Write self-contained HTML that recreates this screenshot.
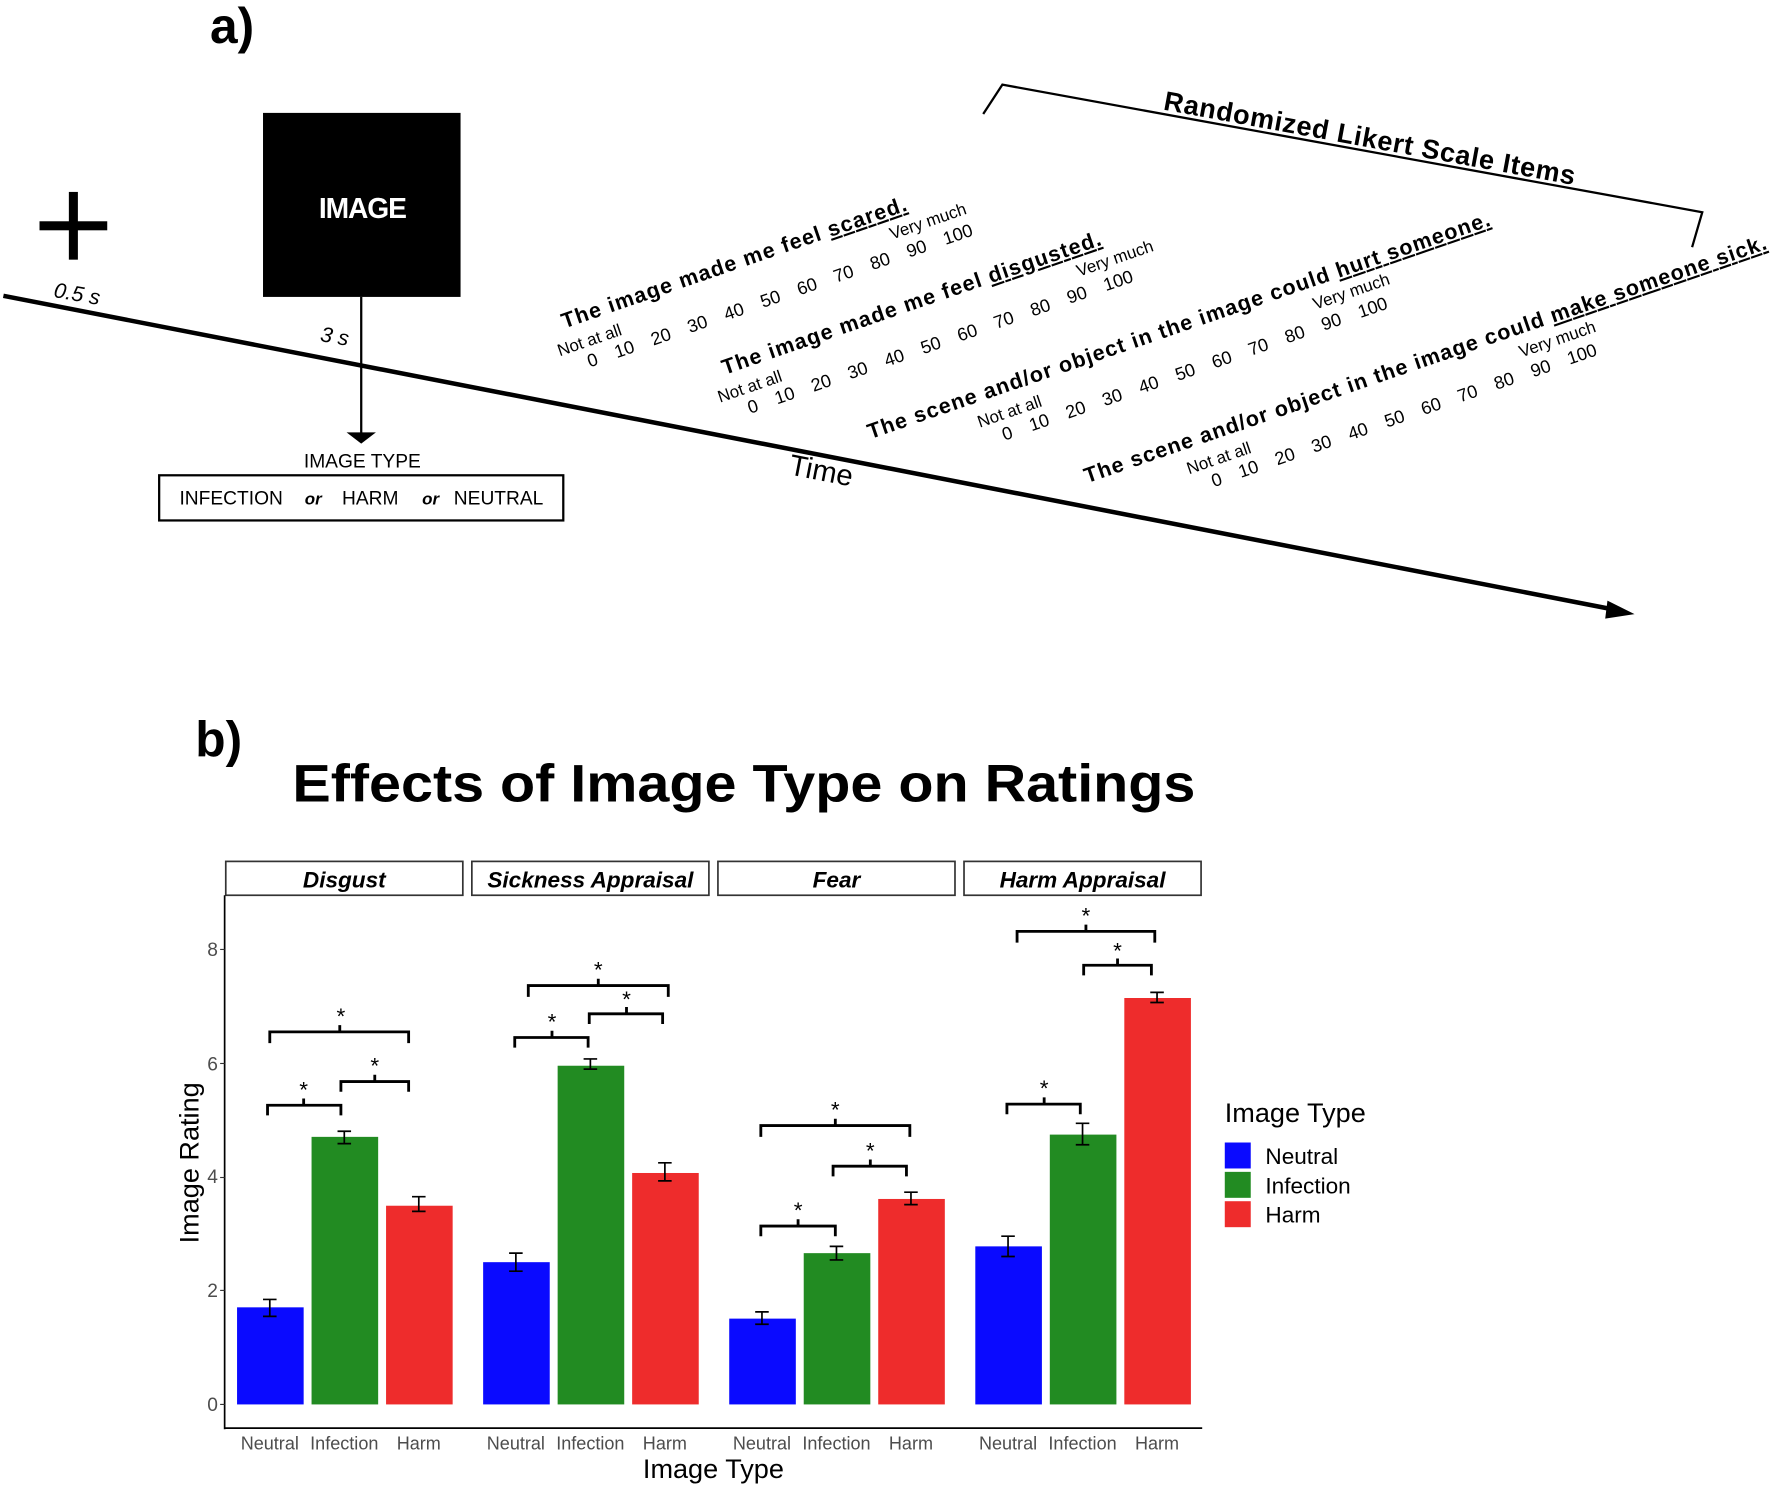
<!DOCTYPE html>
<html><head><meta charset="utf-8"><style>html,body{margin:0;padding:0;background:#fff}svg{display:block}</style></head>
<body>
<svg width="1770" height="1497" viewBox="0 0 1568 1326" preserveAspectRatio="none" xmlns="http://www.w3.org/2000/svg" font-family="Liberation Sans, sans-serif">
<rect width="1568" height="1326" fill="#fff"/>
<!-- part a -->
<text x="186" y="38" font-size="44" font-weight="bold">a)</text>
<rect x="61" y="170" width="8" height="60" fill="#000"/><rect x="35" y="196" width="60" height="8" fill="#000"/>
<text x="47" y="263" font-size="19" font-style="italic" transform="rotate(10 47 263)">0.5 s</text>
<rect x="233" y="100" width="175" height="163" fill="#000"/>
<text x="321" y="193" font-size="25" font-weight="bold" fill="#fff" text-anchor="middle" letter-spacing="-1">IMAGE</text>
<line x1="320" y1="263" x2="320" y2="384" stroke="#000" stroke-width="2"/>
<polygon points="307,383 333,383 320,393" fill="#000"/>
<text x="283" y="302" font-size="19" font-style="italic" transform="rotate(10 283 302)">3 s</text>
<line x1="3" y1="262" x2="1430" y2="540" stroke="#000" stroke-width="4"/>
<polygon points="1448,544 1424,532 1422,548" fill="#000"/>
<text x="698" y="420" font-size="26" transform="rotate(11 698 420)">Time</text>
<text x="321" y="414" font-size="17" text-anchor="middle">IMAGE TYPE</text>
<rect x="141" y="421" width="358" height="40" fill="none" stroke="#000" stroke-width="2"/>
<text x="159" y="447" font-size="17">INFECTION</text>
<text x="270" y="447" font-size="15" font-style="italic" font-weight="bold">or</text>
<text x="303" y="447" font-size="17">HARM</text>
<text x="374" y="447" font-size="15" font-style="italic" font-weight="bold">or</text>
<text x="402" y="447" font-size="17">NEUTRAL</text>
<polyline points="871,101 888,75 1508,188 1499,219" fill="none" stroke="#000" stroke-width="2"/>
<text x="1030" y="97" font-size="24" font-weight="bold" transform="rotate(10.4 1030 97)" textLength="370">Randomized Likert Scale Items</text>
<g font-size="19" font-weight="bold">
<g transform="translate(500,291) rotate(-19)">
<text x="0" y="0" textLength="322">The image made me feel <tspan text-decoration="underline">scared.</tspan></text>
<text x="-12" y="22" font-size="15" font-weight="normal">Not at all</text>
<text x="300" y="20" font-size="15" font-weight="normal">Very much</text>
<text x="10" y="40" font-size="16" font-weight="normal" word-spacing="12">0 10 20 30 40 50 60 70 80 90 100</text>
</g>
<g transform="translate(642,332) rotate(-19)">
<text x="0" y="0" textLength="354">The image made me feel <tspan text-decoration="underline">disgusted.</tspan></text>
<text x="-12" y="22" font-size="15" font-weight="normal">Not at all</text>
<text x="325" y="20" font-size="15" font-weight="normal">Very much</text>
<text x="10" y="40" font-size="16" font-weight="normal" word-spacing="12">0 10 20 30 40 50 60 70 80 90 100</text>
</g>
<g transform="translate(771,389) rotate(-19)">
<text x="0" y="0" textLength="582">The scene and/or object in the image could <tspan text-decoration="underline">hurt someone.</tspan></text>
<text x="95" y="22" font-size="15" font-weight="normal">Not at all</text>
<text x="410" y="20" font-size="15" font-weight="normal">Very much</text>
<text x="112" y="40" font-size="16" font-weight="normal" word-spacing="12">0 10 20 30 40 50 60 70 80 90 100</text>
</g>
<g transform="translate(963,428) rotate(-19)">
<text x="0" y="0" textLength="638">The scene and/or object in the image could <tspan text-decoration="underline">make someone sick.</tspan></text>
<text x="88" y="22" font-size="15" font-weight="normal">Not at all</text>
<text x="400" y="20" font-size="15" font-weight="normal">Very much</text>
<text x="105" y="40" font-size="16" font-weight="normal" word-spacing="12">0 10 20 30 40 50 60 70 80 90 100</text>
</g>
</g>
<!-- part b -->
<text x="173" y="670" font-size="44" font-weight="bold">b)</text>
<text x="259" y="710" font-size="47" font-weight="bold" textLength="800" lengthAdjust="spacingAndGlyphs">Effects of Image Type on Ratings</text>
<g stroke="#333" stroke-width="1.5" fill="#fff">
<rect x="200" y="763" width="210" height="30"/><rect x="418" y="763" width="210" height="30"/>
<rect x="636" y="763" width="210" height="30"/><rect x="854" y="763" width="210" height="30"/>
</g>
<g font-size="20" font-weight="bold" font-style="italic" text-anchor="middle">
<text x="305" y="786">Disgust</text><text x="523" y="786">Sickness Appraisal</text>
<text x="741" y="786">Fear</text><text x="959" y="786">Harm Appraisal</text>
</g>
<line x1="199" y1="793" x2="199" y2="1266" stroke="#000" stroke-width="1.5"/>
<line x1="199" y1="1265" x2="1065" y2="1265" stroke="#000" stroke-width="1.5"/>
<g font-size="17" fill="#4d4d4d" text-anchor="end">
<text x="193" y="1250">0</text><text x="193" y="1149">2</text><text x="193" y="1048">4</text><text x="193" y="948">6</text><text x="193" y="847">8</text>
</g>
<g stroke="#333"><line x1="195" y1="1244" x2="199" y2="1244"/><line x1="195" y1="1143" x2="199" y2="1143"/><line x1="195" y1="1043" x2="199" y2="1043"/><line x1="195" y1="942" x2="199" y2="942"/><line x1="195" y1="841" x2="199" y2="841"/></g>
<text transform="translate(176,1030) rotate(-90)" font-size="24" text-anchor="middle">Image Rating</text>
<text x="632" y="1309" font-size="24" text-anchor="middle">Image Type</text>
<g font-size="16" fill="#4d4d4d" text-anchor="middle">
<text x="239" y="1284">Neutral</text><text x="305" y="1284">Infection</text><text x="371" y="1284">Harm</text>
<text x="457" y="1284">Neutral</text><text x="523" y="1284">Infection</text><text x="589" y="1284">Harm</text>
<text x="675" y="1284">Neutral</text><text x="741" y="1284">Infection</text><text x="807" y="1284">Harm</text>
<text x="893" y="1284">Neutral</text><text x="959" y="1284">Infection</text><text x="1025" y="1284">Harm</text>
</g>
<g>
<rect x="210" y="1158" width="59" height="86" fill="#0a0aff"/>
<rect x="276" y="1007" width="59" height="237" fill="#228b22"/>
<rect x="342" y="1068" width="59" height="176" fill="#ee2c2c"/>
<rect x="428" y="1118" width="59" height="126" fill="#0a0aff"/>
<rect x="494" y="944" width="59" height="300" fill="#228b22"/>
<rect x="560" y="1039" width="59" height="205" fill="#ee2c2c"/>
<rect x="646" y="1168" width="59" height="76" fill="#0a0aff"/>
<rect x="712" y="1110" width="59" height="134" fill="#228b22"/>
<rect x="778" y="1062" width="59" height="182" fill="#ee2c2c"/>
<rect x="864" y="1104" width="59" height="140" fill="#0a0aff"/>
<rect x="930" y="1005" width="59" height="239" fill="#228b22"/>
<rect x="996" y="884" width="59" height="360" fill="#ee2c2c"/>
</g>
<g stroke="#000" stroke-width="1.5" fill="none">
<path d="M233,1151h12M239,1151v15M233,1166h12"/>
<path d="M299,1002h12M305,1002v11M299,1013h12"/>
<path d="M365,1060h12M371,1060v13M365,1073h12"/>
<path d="M451,1110h12M457,1110v16M451,1126h12"/>
<path d="M517,938h12M523,938v9M517,947h12"/>
<path d="M583,1030h12M589,1030v16M583,1046h12"/>
<path d="M669,1162h12M675,1162v11M669,1173h12"/>
<path d="M735,1104h12M741,1104v12M735,1116h12"/>
<path d="M801,1056h12M807,1056v11M801,1067h12"/>
<path d="M887,1095h12M893,1095v18M887,1113h12"/>
<path d="M953,995h12M959,995v19M953,1014h12"/>
<path d="M1019,879h12M1025,879v9M1019,888h12"/>
</g>
<g stroke="#000" stroke-width="2.5" fill="none">
<path d="M237,988v-9h65v9M269,979v-6"/>
<path d="M302,967v-9h60v9M332,958v-6"/>
<path d="M239,924v-10h123v10M301,914v-6"/>
<path d="M456,928v-9h65v9M489,919v-6"/>
<path d="M522,907v-9h65v9M555,898v-6"/>
<path d="M468,883v-10h124v10M530,873v-6"/>
<path d="M674,1095v-9h66v9M707,1086v-6"/>
<path d="M738,1042v-9h65v9M771,1033v-6"/>
<path d="M674,1007v-10h132v10M740,997v-6"/>
<path d="M892,987v-9h65v9M925,978v-6"/>
<path d="M960,864v-9h60v9M990,855v-6"/>
<path d="M901,835v-10h122v10M962,825v-6"/>
</g>
<g font-size="20" text-anchor="middle">
<text x="269" y="972">*</text><text x="332" y="951">*</text><text x="302" y="907">*</text>
<text x="489" y="912">*</text><text x="555" y="892">*</text><text x="530" y="866">*</text>
<text x="707" y="1079">*</text><text x="771" y="1026">*</text><text x="740" y="990">*</text>
<text x="925" y="971">*</text><text x="990" y="849">*</text><text x="962" y="818">*</text>
</g>
<text x="1085" y="994" font-size="24">Image Type</text>
<rect x="1085" y="1012" width="23" height="23" fill="#0a0aff"/>
<rect x="1085" y="1038" width="23" height="23" fill="#228b22"/>
<rect x="1085" y="1064" width="23" height="23" fill="#ee2c2c"/>
<g font-size="20"><text x="1121" y="1031">Neutral</text><text x="1121" y="1057">Infection</text><text x="1121" y="1083">Harm</text></g>
</svg>
</body></html>
